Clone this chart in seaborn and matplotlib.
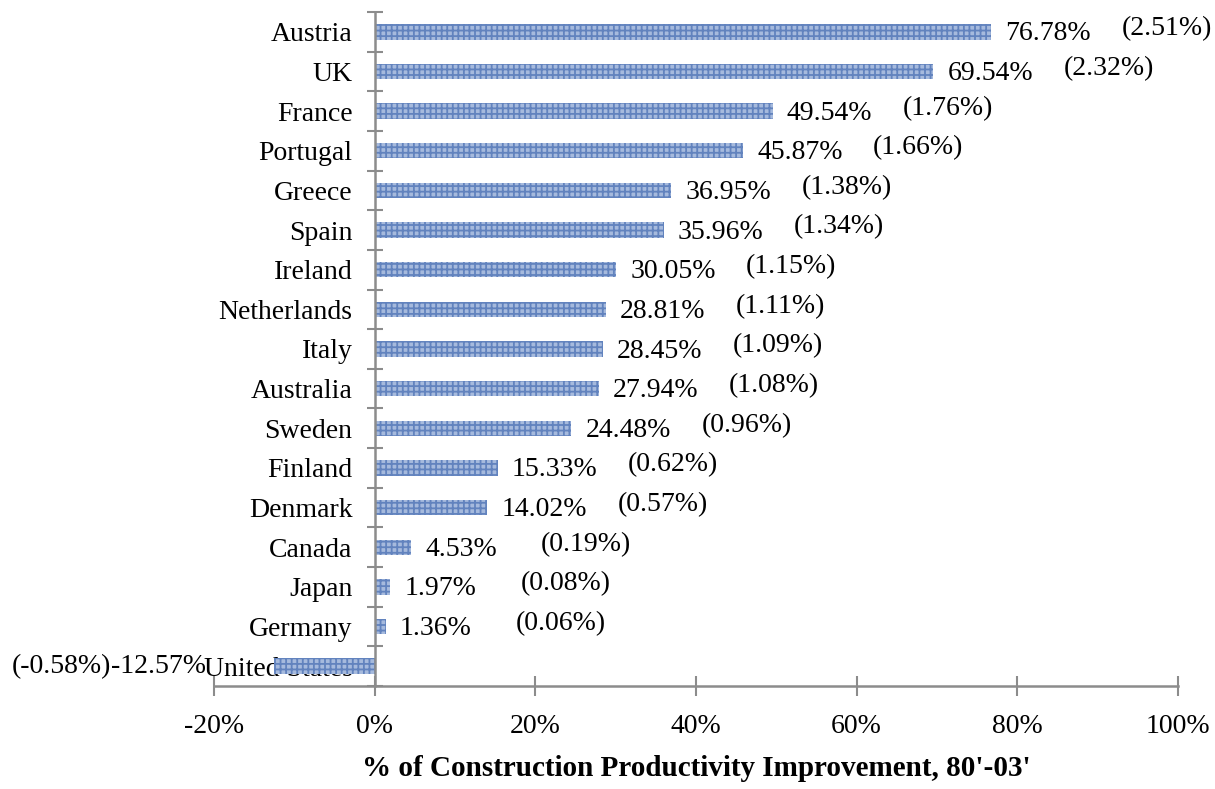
import matplotlib
matplotlib.use("Agg")
import matplotlib.pyplot as plt
import seaborn as sns
import pandas as pd
from matplotlib.ticker import FixedLocator, FuncFormatter

countries = ["Austria", "UK", "France", "Portugal", "Greece", "Spain", "Ireland",
             "Netherlands", "Italy", "Australia", "Sweden", "Finland", "Denmark",
             "Canada", "Japan", "Germany", "United States"]
improvement = [76.78, 69.54, 49.54, 45.87, 36.95, 35.96, 30.05, 28.81, 28.45,
               27.94, 24.48, 15.33, 14.02, 4.53, 1.97, 1.36, -12.57]
annual = [2.51, 2.32, 1.76, 1.66, 1.38, 1.34, 1.15, 1.11, 1.09, 1.08, 0.96,
          0.62, 0.57, 0.19, 0.08, 0.06, -0.58]
xticks = [-20, 0, 20, 40, 60, 80, 100]

df = pd.DataFrame({"country": countries, "improvement": improvement, "annual": annual})

sns.set_theme(style="white")
plt.rcParams["font.family"] = ["Liberation Serif", "DejaVu Serif"]
plt.rcParams["text.color"] = "black"
plt.rcParams["xtick.labelcolor"] = "black"
plt.rcParams["ytick.labelcolor"] = "black"
plt.rcParams["axes.labelcolor"] = "black"
plt.rcParams["hatch.linewidth"] = 1.3

fig = plt.figure(figsize=(12.15, 7.89), dpi=100)
ax = fig.add_axes([214 / 1215, 1 - 686 / 789, (1178 - 214) / 1215, (686 - 12) / 789])

sns.barplot(data=df, x="improvement", y="country", orient="h", ax=ax,
            color="#A6BADD", width=0.39, saturation=1, linewidth=0,
            edgecolor="#6283BE", hatch="+++")

ax.set_xlim(-20, 100)
ax.set_ylim(len(countries) - 0.5, -0.5)

gray = "#8C8C8C"
for s in ["top", "right"]:
    ax.spines[s].set_visible(False)
ax.spines["left"].set_position(("data", 0))
ax.spines["left"].set_color(gray)
ax.spines["left"].set_linewidth(1.8)
ax.spines["bottom"].set_color(gray)
ax.spines["bottom"].set_linewidth(1.8)

ax.xaxis.set_major_locator(FixedLocator(xticks))
ax.xaxis.set_major_formatter(FuncFormatter(lambda v, p: f"{v:.0f}%"))
ax.tick_params(axis="x", direction="inout", length=14, width=1.5, color=gray,
               labelsize=20, pad=13, bottom=True)

ax.set_yticks(range(len(countries)))
ax.set_yticklabels(countries)
ax.yaxis.set_minor_locator(FixedLocator([i - 0.5 for i in range(len(countries) + 1)]))
ax.tick_params(axis="y", which="major", length=0, labelsize=20, pad=16, left=True)
ax.tick_params(axis="y", which="minor", direction="inout", length=12, width=1.5,
               color=gray, left=True)

ax.set_ylabel("")
ax.set_xlabel("% of Construction Productivity Improvement, 80'-03'",
              fontsize=21, fontweight="bold", labelpad=12)

for i, (v, a) in enumerate(zip(improvement, annual)):
    if v >= 0:
        ax.annotate(f"{v:.2f}%", xy=(v, i), xytext=(14, -2), textcoords="offset pixels",
                    ha="left", va="center", fontsize=20)
        ax.annotate(f"({a:.2f}%)", xy=(v, i), xytext=(130, 3), textcoords="offset pixels",
                    ha="left", va="center", fontsize=20)
    else:
        ax.annotate(f"{v:.2f}%", xy=(v, i), xytext=(-68, 0), textcoords="offset pixels",
                    ha="right", va="center", fontsize=20)
        ax.annotate(f"({a:.2f}%)", xy=(v, i), xytext=(-163, 0), textcoords="offset pixels",
                    ha="right", va="center", fontsize=20)

fig.savefig("out.png", dpi=100)
